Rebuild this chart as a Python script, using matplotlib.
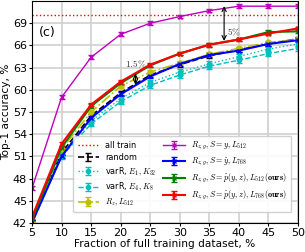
import numpy as np
import matplotlib
matplotlib.use("Agg")
import matplotlib.pyplot as plt

fractions = [5, 10, 15, 20, 25, 30, 35, 40, 45, 50]
all_train = 70.1

acc_oracle = [46.7, 59.0, 64.4, 67.5, 69.0, 69.9, 70.7, 71.3, 71.3, 71.3]
acc_random = [42.2, 51.5, 56.5, 59.6, 62.0, 63.4, 64.6, 65.4, 66.2, 66.9]
acc_varr_e1 = [42.0, 51.3, 55.8, 58.8, 61.0, 62.4, 63.5, 64.5, 65.5, 66.2]
acc_varr_e4 = [41.9, 51.0, 55.4, 58.4, 60.6, 62.0, 63.2, 64.0, 64.9, 65.6]
acc_rz = [42.0, 52.0, 57.0, 60.5, 62.4, 63.6, 64.8, 65.6, 66.4, 66.8]
acc_pseudo = [42.1, 51.0, 56.2, 59.4, 61.8, 63.5, 64.7, 65.3, 66.2, 66.7]
acc_ours512 = [42.5, 52.2, 57.8, 60.9, 63.3, 64.9, 66.1, 66.8, 67.8, 67.9]
acc_ours768 = [42.8, 52.7, 58.0, 61.1, 63.4, 64.9, 66.1, 66.8, 67.6, 68.3]

err_small = [0.25] * 10
err_varr = [0.35] * 10

plt.rcParams["font.size"] = 7.6
plt.rcParams["mathtext.fontset"] = "cm"

fig = plt.figure(figsize=(3.05, 2.52), dpi=100)
ax = fig.add_axes([0.105, 0.115, 0.872, 0.881])

ax.axhline(all_train, color="red", ls=":", lw=1.0, label="all train")
ax.errorbar(fractions, acc_random, yerr=err_small, color="black", ls="--",
            lw=1.2, capsize=2, label="random")
ax.errorbar(fractions, acc_varr_e1, yerr=err_varr, color="c", ls=":", lw=1.0,
            marker="o", ms=3, capsize=2, label=r"varR, $E_1, K_{32}$")
ax.errorbar(fractions, acc_varr_e4, yerr=err_varr, color="c", ls="--", lw=1.0,
            marker="o", ms=3, capsize=2, label=r"varR, $E_4, K_8$")
ax.errorbar(fractions, acc_rz, yerr=err_small, color="y", ls="-.", lw=1.2,
            marker="o", ms=3.5, capsize=2, label=r"$R_z, L_{512}$")
ax.errorbar(fractions, acc_oracle, yerr=err_small, color="m", lw=1.0,
            marker="x", ms=3, capsize=2, label=r"$R_{z,g}, S=y, L_{512}$")
ax.errorbar(fractions, acc_pseudo, yerr=err_small, color="blue", lw=1.5,
            marker="x", ms=3, capsize=2, label=r"$R_{z,g}, S=\hat{y}, L_{768}$")
ax.errorbar(fractions, acc_ours512, yerr=err_small, color="green", lw=1.5,
            marker="x", ms=3, capsize=2,
            label=r"$R_{z,g}, S=\hat{p}(y,z), L_{512}(\mathbf{ours})$")
ax.errorbar(fractions, acc_ours768, yerr=err_small, color="red", lw=1.5,
            marker="x", ms=3, capsize=2,
            label=r"$R_{z,g}, S=\hat{p}(y,z), L_{768}(\mathbf{ours})$")

# gap annotations
ax.annotate("", xy=(22.5, 60.7), xytext=(22.5, 62.2),
            arrowprops=dict(arrowstyle="<->", lw=0.8, color="black",
                            shrinkA=0, shrinkB=0))
ax.text(20.7, 63.0, r"$1.5\%$", fontsize=6.8, color="#333333")
ax.annotate("", xy=(37.5, 66.6), xytext=(37.5, 71.3),
            arrowprops=dict(arrowstyle="<->", lw=0.8, color="black",
                            shrinkA=0, shrinkB=0))
ax.text(38.0, 67.4, r"$5\%$", fontsize=6.8, color="#333333")
ax.text(6.1, 67.8, "(c)", fontsize=9, va="center")

ax.set_xlim(5, 50)
ax.set_ylim(42, 72)
ax.set_xticks(fractions)
ax.set_yticks(np.arange(42, 70, 3))
ax.grid(True, color="#d0d0d0", lw=1.2)
ax.set_axisbelow(True)
ax.set_xlabel("Fraction of full training dataset, %", labelpad=1)
ax.set_ylabel("Top-1 accuracy, %", labelpad=1)
ax.tick_params(length=2, pad=1.5, labelsize=8)

ax.legend(ncol=2, loc="lower right", bbox_to_anchor=(0.99, 0.03),
          fontsize=5.9, handlelength=2.6, columnspacing=0.8,
          labelspacing=0.4, borderpad=0.5, handletextpad=0.8,
          framealpha=0.9)

fig.savefig("out.png", dpi=100)
